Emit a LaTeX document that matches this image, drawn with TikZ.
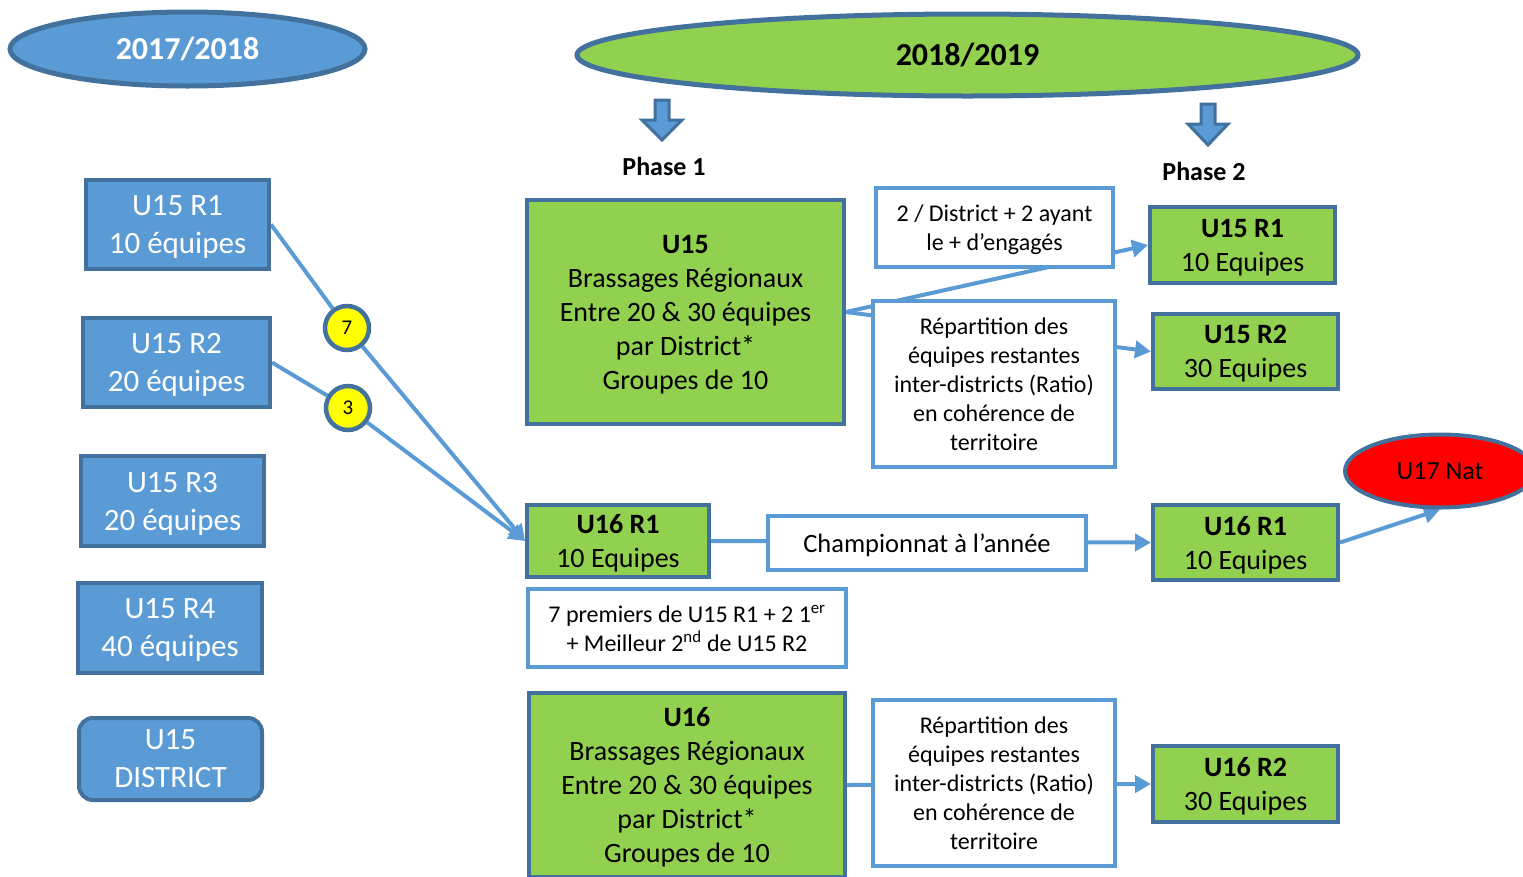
\documentclass[tikz,border=0pt]{standalone}
\usepackage{fontspec}
\setmainfont{Carlito}
\usetikzlibrary{arrows.meta,shapes.geometric,backgrounds}
\definecolor{bfill}{HTML}{5B9BD5}
\definecolor{bborder}{HTML}{41719C}
\definecolor{gfill}{HTML}{92D050}
\definecolor{yfill}{HTML}{FFFF00}
\definecolor{rfill}{HTML}{FF0000}
\begin{document}
\begin{tikzpicture}[x=1pt,y=-1pt,
  leftbox/.style={draw=bborder, fill=bfill, line width=4pt, text=white,
    font=\fontsize{31}{38}\selectfont, align=center, inner sep=0pt, text depth=0pt},
  greenbox/.style={draw=bborder, fill=gfill, line width=4pt,
    font=\fontsize{28}{34}\selectfont, align=center, inner sep=0pt, text depth=0pt},
  whitebox/.style={draw=bfill, fill=white, line width=4pt,
    font=\fontsize{24}{29}\selectfont, align=center, inner sep=0pt, text depth=0pt},
  yearell/.style={ellipse, draw=bborder, line width=5pt, inner sep=0pt,
    font=\bfseries\fontsize{32}{36}\selectfont},
  numcirc/.style={circle, draw=bborder, fill=yfill, line width=4.5pt,
    minimum size=44pt, inner sep=0pt, font=\fontsize{21}{24}\selectfont},
  phaselbl/.style={font=\bfseries\fontsize{26}{30}\selectfont, inner sep=0pt},
  conn/.style={draw=bfill, line width=4pt},
  arr/.style={conn, -{Triangle[length=16pt,width=17pt]}},
  blockarr/.style={fill=bfill, draw=bborder, line width=3pt, line join=miter}
]
\useasboundingbox (0,0) rectangle (1523,876);

% year ellipses
\node[yearell, fill=bfill, text=white, minimum width=355pt, minimum height=74pt] (y1) at (187.5,49) {2017/2018};
\node[yearell, fill=gfill, minimum width=781pt, minimum height=82pt] (y2) at (967.5,55) {2018/2019};

% block arrows
\draw[blockarr] (655,100) -- (669,100) -- (669,120) -- (682,120) -- (662,140) -- (642,120) -- (655,120) -- cycle;
\draw[blockarr] (1201,104) -- (1215,104) -- (1215,124) -- (1228,124) -- (1208,145) -- (1188,124) -- (1201,124) -- cycle;

\node[phaselbl] (ph1) at (664,166) {Phase 1};
\node[phaselbl] (ph2) at (1204,171) {Phase 2};

% left column
\node[leftbox, minimum width=183pt, minimum height=89pt] (l1) at (177.5,224.5) {U15 R1\\10 équipes};
\node[leftbox, minimum width=187pt, minimum height=89pt] (l2) at (176.5,362.5) {U15 R2\\20 équipes};
\node[leftbox, minimum width=183pt, minimum height=90pt] (l3) at (172.5,501) {U15 R3\\20 équipes};
\node[leftbox, minimum width=184pt, minimum height=90pt] (l4) at (170,628) {U15 R4\\40 équipes};
\node[leftbox, rounded corners=14pt, minimum width=183pt, minimum height=82pt] (l5) at (170.5,759) {U15\\DISTRICT};

% green boxes
\node[greenbox, minimum width=317pt, minimum height=224pt] (g15) at (685.5,312)
  {\textbf{U15}\\Brassages Régionaux\\Entre 20 \& 30 équipes\\par District*\\Groupes de 10};
\node[greenbox, minimum width=182pt, minimum height=72pt] (g16a) at (618,541) {\textbf{U16 R1}\\10 Equipes};
\node[greenbox, minimum width=316pt, minimum height=184pt] (g16) at (687,785)
  {\textbf{U16}\\Brassages Régionaux\\Entre 20 \& 30 équipes\\par District*\\Groupes de 10};
\node[greenbox, minimum width=185pt, minimum height=76pt] (r15a) at (1242.5,245) {\textbf{U15 R1}\\10 Equipes};
\node[greenbox, minimum width=185pt, minimum height=75pt] (r15b) at (1245.5,351.5) {\textbf{U15 R2}\\30 Equipes};
\node[greenbox, minimum width=185pt, minimum height=75pt] (r16a) at (1245.5,542.5) {\textbf{U16 R1}\\10 Equipes};
\node[greenbox, minimum width=185pt, minimum height=76pt] (r16b) at (1245.5,784) {\textbf{U16 R2}\\30 Equipes};

% U17 Nat
\node[ellipse, draw=bborder, fill=rfill, line width=4pt, inner sep=0pt,
  minimum width=190pt, minimum height=73pt, font=\fontsize{26}{30}\selectfont] (u17) at (1440,471) {U17 Nat};

% white boxes
\node[whitebox, minimum width=237pt, minimum height=79pt] (w1) at (994.5,227.5) {2 / District + 2 ayant\\le + d’engagés};
\node[whitebox, minimum width=242pt, minimum height=166pt] (w2) at (994,384)
  {Répartition des\\équipes restantes\\inter-districts (Ratio)\\en cohérence de\\territoire};
\node[whitebox, minimum width=318pt, minimum height=54pt, font=\fontsize{26.5}{30}\selectfont] (w3) at (927,543) {Championnat à l’année};
\node[whitebox, minimum width=318pt, minimum height=78pt] (w4) at (687,628)
  {7 premiers de U15 R1 + 2 1\textsuperscript{er}\\+ Meilleur 2\textsuperscript{nd} de U15 R2};
\node[whitebox, minimum width=242pt, minimum height=166pt] (w5) at (994,783)
  {Répartition des\\équipes restantes\\inter-districts (Ratio)\\en cohérence de\\territoire};

% number circles
\node[numcirc] (c7) at (347,328) {7};
\node[numcirc] (c3) at (348,408) {3};

% connectors
\begin{pgfonlayer}{background}
\draw[conn] (l1.east) -- (c7);
\draw[arr] (c7) -- (g16a.west);
\draw[conn] (l2.east) -- (c3);
\draw[arr] (c3) -- (g16a.west);
\draw[arr] (g15.east) -- (r15a.west);
\draw[arr] (g15.east) -- (r15b.west);
\draw[arr] (g16a.east) -- (r16a.west);
\draw[arr] (g16.east) -- (r16b.west);
\draw[arr] (r16a.east) -- (u17.south);
\end{pgfonlayer}
\end{tikzpicture}
\end{document}
